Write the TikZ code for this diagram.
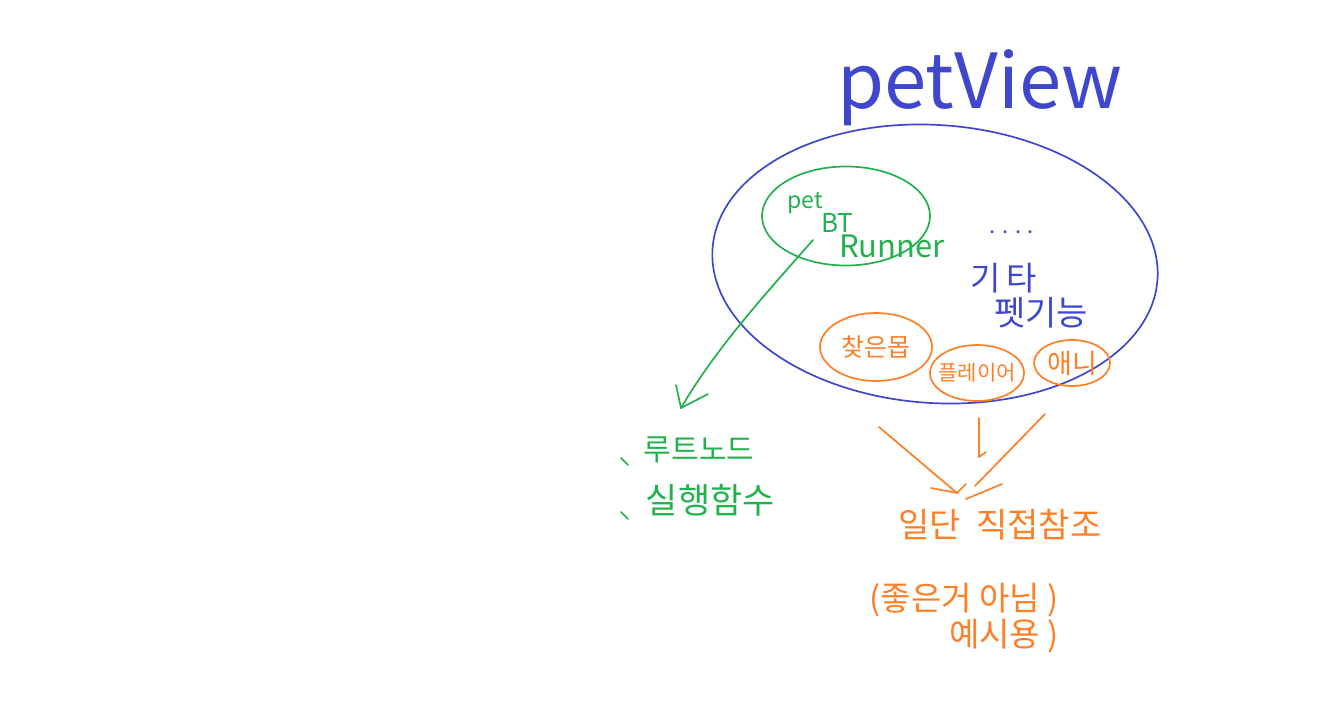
\documentclass[tikz,border=0pt]{standalone}
\usepackage{fontspec}
\setmainfont{Noto Sans CJK KR}
\usetikzlibrary{shapes.geometric}
\definecolor{pblue}{HTML}{3F48CC}
\definecolor{pgreen}{HTML}{22B14C}
\definecolor{porange}{HTML}{FF7F27}
\newcommand{\fs}[1]{\fontsize{#1}{#1}\selectfont}
\begin{document}
\begin{tikzpicture}[x=1pt,y=-1pt,line width=1.7pt,line cap=round,line join=round,
  blob/.style={draw,ellipse,inner sep=0pt},
  lbl/.style={inner sep=0pt,anchor=center}]
\useasboundingbox[fill=white] (0,0) rectangle (1332,720);

% title
\node[lbl,text=pblue,font=\fs{76}] (title) at (980,88) {petView};

% big view ellipse
\node[blob,draw=pblue,minimum width=446pt,minimum height=278pt,rotate=-4] (view) at (935,264) {};

% pet BT runner
\node[blob,draw=pgreen,minimum width=168pt,minimum height=99pt] (runner) at (846,216) {};
\node[lbl,text=pgreen,font=\fs{23}] (t1) at (805,203) {pet};
\node[lbl,text=pgreen,font=\fs{26}] (t2) at (837,223) {BT};
\node[lbl,text=pgreen,font=\fs{31}] (t3) at (892,246) {Runner};

% other features
\node[lbl,text=pblue,font=\fs{22}] (dots) at (1012,232) {. . . .};
\node[lbl,text=pblue,font=\fs{33}] (etc1) at (1004,278) {기\,타};
\node[lbl,text=pblue,font=\fs{34}] (etc2) at (1041,313) {펫기능};

% orange features
\node[blob,draw=porange,minimum width=112pt,minimum height=68pt] (mob) at (876,347) {};
\node[lbl,text=porange,font=\fs{25}] at (mob) {찾은몹};
\node[blob,draw=porange,minimum width=94pt,minimum height=56pt] (player) at (977,373) {};
\node[lbl,text=porange,font=\fs{21}] at (player) {플레이어};
\node[blob,draw=porange,minimum width=76pt,minimum height=46pt] (anim) at (1072,363) {};
\node[lbl,text=porange,font=\fs{27}] at (anim) {애니};

% green arrow to list
\coordinate (gs) at (813,240);
\coordinate (gt) at (681,408);
\draw[pgreen] (gs) .. controls (760,300) and (715,350) .. (gt);
\draw[pgreen] (676,385) -- (gt) -- (708,394);

% green list
\node[lbl,anchor=west,text=pgreen,font=\fs{30}] (root) at (643,450) {루트노드};
\node[lbl,anchor=west,text=pgreen,font=\fs{35}] (exec) at (645,500) {실행함수};
\draw[pgreen] ([xshift=-22pt,yshift=-8pt]root.west) -- ++(7,7);
\draw[pgreen] ([xshift=-24pt,yshift=-12pt]exec.west) -- ++(7,7);

% orange arrows to note
\coordinate (oa) at (879,427);
\coordinate (ot) at (957,493);
\coordinate (ob) at (1045,414);
\coordinate (obe) at (975,486);
\coordinate (oc) at (979,418);
\coordinate (oce) at (979,457);
\draw[porange] (oa) -- (ot);
\draw[porange] (931,488) -- (ot) -- (966,484);
\draw[porange] (ob) -- (obe);
\draw[porange] (966,499) -- (1002,484);
\draw[porange] (oc) -- (oce) -- (986,452);

% orange notes
\node[lbl,text=porange,font=\fs{34}] (note1) at (1000,525) {일단\ \ 직접참조};
\node[lbl,text=porange,font=\fs{33}] (note2) at (964,600) {(좋은거 아님 )};
\node[lbl,text=porange,font=\fs{33}] (note3) at (1004,636) {예시용 )};
\end{tikzpicture}
\end{document}
